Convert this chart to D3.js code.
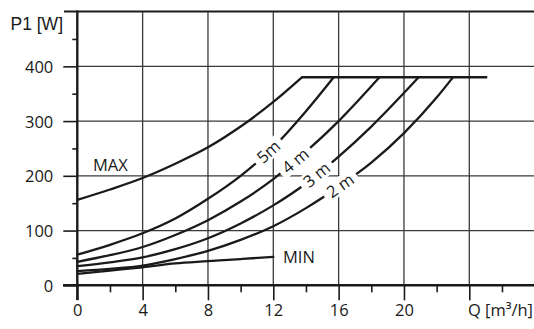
<!DOCTYPE html>
<html>
<head>
<meta charset="utf-8">
<script src="https://cdn.jsdelivr.net/npm/d3@7"></script>
<style>
  html, body { margin: 0; padding: 0; background: #fff; }
  svg { display: block; }
  text { font-family: "Open Sans", "Noto Sans", sans-serif; fill: #1a1a1a; }
</style>
</head>
<body>
<svg id="chart" width="534" height="329"></svg>
<script>
// ---- data ----
const qTicks = [0, 4, 8, 12, 16, 20, 24];
const qTickLabels = ["0", "4", "8", "12", "16", "20", ""];
const qMinorTicks = [2, 6, 10, 14, 18, 22, 26];
const pTicks = [0, 100, 200, 300, 400];
const pMinorTicks = [50, 150, 250, 350, 450];
const pTop = 500;

const qMax = [0, 2, 4, 6, 8, 10, 12, 13.75];
const pMax = [156, 175, 196, 222, 252, 290, 335, 380];
const q5 = [0, 2, 4, 6, 8, 10, 12, 14, 15.7];
const p5 = [56, 74, 95, 122, 158, 200, 252, 318, 380];
const q4 = [0, 2, 4, 6, 8, 10, 12, 14, 16, 18.5];
const p4 = [43, 55, 70, 92, 119, 153, 194, 244, 300, 380];
const q3 = [0, 2, 4, 6, 8, 10, 12, 14, 16, 18, 20.9];
const p3 = [35, 42, 51, 66, 86, 113, 146, 186, 235, 290, 380];
const q2 = [0, 2, 4, 6, 8, 10, 12, 14, 16, 18, 20, 22, 23];
const p2 = [26, 30, 36, 48, 63, 83, 108, 141, 180, 224, 278, 343, 380];
const qMin = [0, 2, 4, 6, 8, 10, 12];
const pMin = [21, 27, 33, 40, 44, 48, 52];
const qCap = [13.75, 25.1];
const pCap = [380, 380];

const curveLabels = ["5m", "4 m", "3 m", "2 m"];
const curveLabelQ = [11.7, 13.35, 14.65, 16.1];

// ---- drawing ----
const svg = d3.select("#chart");
const x = d3.scaleLinear().domain([0, 24]).range([77.3, 469.3]);
const y = d3.scaleLinear().domain([0, pTop]).range([285.3, 11.6]);
const W = 534;

// grid: horizontal
svg.append("g").selectAll("line").data(pTicks.filter(d => d > 0)).join("line")
  .attr("x1", x(0)).attr("x2", W).attr("y1", d => y(d)).attr("y2", d => y(d))
  .attr("stroke", "#3a3a3a").attr("stroke-width", 1.3);
// top border
svg.append("line").attr("x1", 64).attr("x2", W).attr("y1", y(pTop)).attr("y2", y(pTop))
  .attr("stroke", "#1a1a1a").attr("stroke-width", 2);
// grid: vertical
svg.append("g").selectAll("line").data(qTicks.filter(d => d > 0)).join("line")
  .attr("x1", d => x(d)).attr("x2", d => x(d)).attr("y1", y(pTop)).attr("y2", y(0))
  .attr("stroke", "#3a3a3a").attr("stroke-width", 1.3);

// axes
const fs = "16.5px";
const xAxis = svg.append("g").attr("transform", `translate(0,${y(0)})`)
  .call(d3.axisBottom(x).tickValues(qTicks).tickSize(15).tickPadding(4)
    .tickFormat((d, i) => qTickLabels[i]));
const xMinor = svg.append("g").attr("transform", `translate(0,${y(0)})`)
  .call(d3.axisBottom(x).tickValues(qMinorTicks).tickSize(7).tickFormat(""));
const yAxis = svg.append("g").attr("transform", `translate(${x(0)},0)`)
  .call(d3.axisLeft(y).tickValues(pTicks).tickSize(14).tickPadding(10).tickFormat(d3.format("d")));
const yMinor = svg.append("g").attr("transform", `translate(${x(0)},0)`)
  .call(d3.axisLeft(y).tickValues(pMinorTicks).tickSize(5).tickFormat(""));
[xAxis, xMinor, yAxis, yMinor].forEach(g => {
  g.select(".domain").remove();
  g.selectAll("line").attr("stroke", "#1a1a1a").attr("stroke-width", 1.6);
  g.selectAll("text").style("font-size", fs).style("font-family", '"Open Sans", sans-serif').attr("fill", "#1a1a1a");
});
yAxis.selectAll("text").attr("dy", "0.36em");

// axis lines
svg.append("line").attr("x1", 63).attr("x2", W).attr("y1", y(0)).attr("y2", y(0))
  .attr("stroke", "#1a1a1a").attr("stroke-width", 2.4);
svg.append("line").attr("x1", x(0)).attr("x2", x(0)).attr("y1", y(pTop) - 1).attr("y2", 300)
  .attr("stroke", "#1a1a1a").attr("stroke-width", 2.4);

// curves
const line = d3.line().x(d => x(d[0])).y(d => y(d[1])).curve(d3.curveMonotoneX);
const series = [[qMax, pMax], [q5, p5], [q4, p4], [q3, p3], [q2, p2], [qMin, pMin]];
const gC = svg.append("g");
series.forEach(([q, p]) => {
  gC.append("path").datum(q.map((v, i) => [v, p[i]])).attr("d", line)
    .attr("fill", "none").attr("stroke", "#1a1a1a").attr("stroke-width", 2.3)
    .attr("stroke-linecap", "round");
});
gC.append("path").datum(qCap.map((v, i) => [v, pCap[i]])).attr("d", d3.line().x(d => x(d[0])).y(d => y(d[1])))
  .attr("stroke", "#1a1a1a").attr("stroke-width", 2.6).attr("fill", "none");

// curve labels with knock-out background
const labelSeries = [[q5, p5], [q4, p4], [q3, p3], [q2, p2]];
labelSeries.forEach(([q, p], i) => {
  const interp = d3.scaleLinear().domain(q).range(p);
  const qv = curveLabelQ[i];
  const px = x(qv), py = y(interp(qv));
  const dx = x(qv + 0.4) - x(qv - 0.4), dy = y(interp(qv + 0.4)) - y(interp(qv - 0.4));
  const ang = Math.atan2(dy, dx) * 180 / Math.PI;
  const g = svg.append("g").attr("transform", `translate(${px},${py}) rotate(${ang})`);
  const t = g.append("text").text(curveLabels[i]).attr("text-anchor", "middle")
    .attr("dy", "0.36em").style("font-size", "16.5px");
  const w = t.node().getComputedTextLength();
  g.insert("rect", "text").attr("x", -w / 2 - 5).attr("y", -8.5).attr("width", w + 10).attr("height", 17)
    .attr("fill", "#fff");
});

// text labels
svg.append("text").text("P1 [W]").attr("x", 63).attr("y", 29.5).attr("text-anchor", "end")
  .style("font-family", '"Liberation Sans", Arial, sans-serif').style("font-size", "17.5px");
svg.append("text").text("Q [m³/h]").attr("x", 533).attr("y", 316).attr("text-anchor", "end")
  .style("font-size", fs);
svg.append("text").text("MAX").attr("x", 93).attr("y", 171).style("font-size", fs);
svg.append("text").text("MIN").attr("x", 283).attr("y", 262.7).style("font-size", fs);
</script>
</body>
</html>
